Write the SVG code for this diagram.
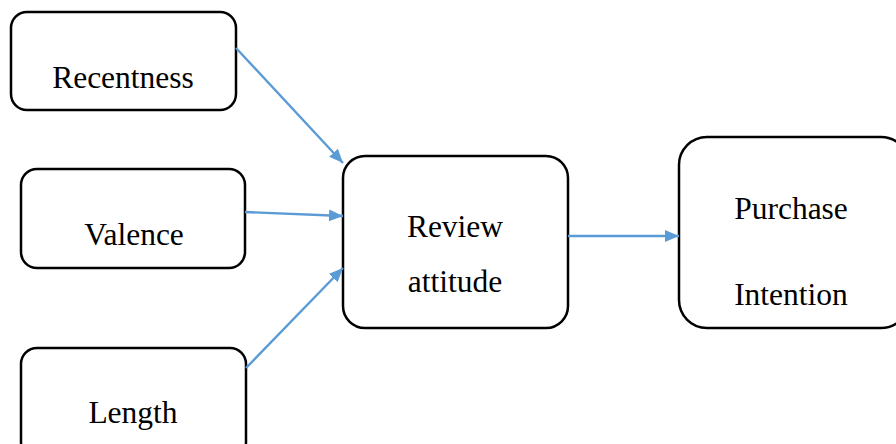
<svg xmlns="http://www.w3.org/2000/svg" width="896" height="444" viewBox="0 0 896 444">
<style>
.box{fill:#fff;stroke:#000;stroke-width:2.5}
.t{font-family:"Liberation Serif","Times New Roman",serif;font-size:31.5px;fill:#000;text-anchor:middle}
.c{stroke:#5B9BD5;stroke-width:2.4;fill:none;marker-end:url(#ah)}
</style>
<defs>
<marker id="ah" viewBox="0 0 14 12" refX="14" refY="6" markerWidth="14" markerHeight="12" markerUnits="userSpaceOnUse" orient="auto">
<path d="M0,0 L14,6 L0,12 z" fill="#5B9BD5"/>
</marker>
</defs>
<rect width="896" height="444" fill="#fff"/>
<g id="recentness"><rect class="box" x="11" y="12" width="225" height="98" rx="16"/><text class="t" x="123" y="88">Recentness</text></g>
<g id="valence"><rect class="box" x="21" y="169" width="224" height="99" rx="16"/><text class="t" x="134" y="245">Valence</text></g>
<g id="length"><rect class="box" x="21" y="348" width="225" height="110" rx="16"/><text class="t" x="133" y="423">Length</text></g>
<g id="review"><rect class="box" x="343" y="156" width="225" height="172" rx="22"/><text class="t" x="455" y="237">Review</text><text class="t" x="455" y="292">attitude</text></g>
<g id="purchase"><rect class="box" x="679" y="137" width="230" height="191" rx="28"/><text class="t" x="791" y="219">Purchase</text><text class="t" x="791" y="305">Intention</text></g>
<g id="connectors">
<line class="c" x1="236" y1="48" x2="343" y2="163"/>
<line class="c" x1="245" y1="212" x2="343" y2="216"/>
<line class="c" x1="246" y1="368" x2="343" y2="268"/>
<line class="c" x1="568" y1="236" x2="679" y2="236"/>
</g>
</svg>
